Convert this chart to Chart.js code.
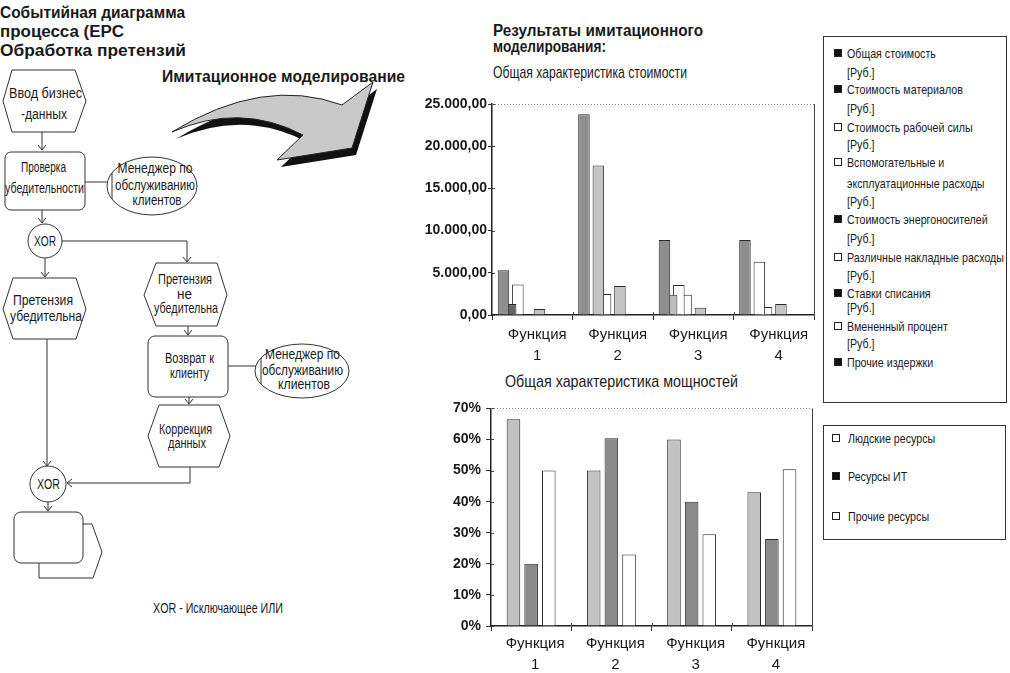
<!DOCTYPE html>
<html><head><meta charset="utf-8">
<script src="https://cdn.jsdelivr.net/npm/chart.js@4.4.1/dist/chart.umd.min.js"></script>
<style>
html,body{margin:0;padding:0;background:#fff;}
#stage{position:relative;width:1010px;height:673px;overflow:hidden;background:#fff;}
#deco{position:absolute;left:0;top:0;}
canvas{position:absolute;}
#costChart{left:420px;top:90px;}
#capChart{left:420px;top:395px;}
</style></head>
<body><div id="stage">
<svg id="deco" width="1010" height="673" xmlns="http://www.w3.org/2000/svg"></svg>
<canvas id="costChart" width="400" height="290"></canvas>
<canvas id="capChart" width="400" height="278"></canvas>
</div>
<script>
// ---------- DATA ----------
const categories = [['Функция','1'],['Функция','2'],['Функция','3'],['Функция','4']];
const costTicks = [0, 5000, 10000, 15000, 20000, 25000];
const capTicks = [0, 10, 20, 30, 40, 50, 60, 70];

const costSeries = ['Общая стоимость','Стоимость материалов','Стоимость рабочей силы',
  'Вспомогательные и эксплуатационные расходы','Стоимость энергоносителей',
  'Различные накладные расходы','Ставки списания','Вмененный процент','Прочие издержки'];
const costUnit = '[Руб.]';
const totalCost    = [5300, 23800, 8900, 8900];
const materialCost = [1300, 0, 2400, 0];
const laborCost    = [3600, 17700, 3550, 6300];
const auxCost      = [0, 2500, 2400, 950];
const energyCost   = [0, 0, 0, 0];
const overheadCost = [700, 3450, 850, 1300];
const writeOffCost = [0, 0, 0, 0];
const interestCost = [0, 0, 0, 0];
const otherCost    = [0, 0, 0, 0];

const capSeries = ['Людские ресурсы','Ресурсы ИТ','Прочие ресурсы'];
const humanRes = [66.5, 50, 60, 43];
const itRes    = [20, 60.4, 40, 28];
const otherRes = [50, 23, 29.5, 50.4];

// ---------- FONTS ----------
function hasFont(f){
  const c=document.createElement('canvas').getContext('2d');
  c.font='20px monospace'; const a=c.measureText('Функция abc').width;
  c.font='20px "'+f+'", monospace'; const b=c.measureText('Функция abc').width;
  return Math.abs(a-b)>0.5;
}
const NARROW = hasFont('Liberation Sans Narrow');
const FF = NARROW ? '"Liberation Sans Narrow","Liberation Sans",Arial,sans-serif' : '"Liberation Sans",Arial,sans-serif';
const FB = '"Liberation Sans",Arial,sans-serif';
const INK = '#1a1a1a';

// ---------- SVG DECORATION ----------
const NS='http://www.w3.org/2000/svg';
const svg=document.getElementById('deco');
function el(tag, attrs){const e=document.createElementNS(NS,tag);for(const k in attrs)e.setAttribute(k,attrs[k]);svg.appendChild(e);return e;}
function text(str,x,y,o){o=o||{};
  const t=el('text',{x:x,y:y,'font-family':o.family||FF,'font-size':o.size||14,'font-weight':o.weight||'normal',
    'text-anchor':o.anchor||'start','dominant-baseline':'central',fill:INK});
  if(o.w){t.setAttribute('textLength',o.w);t.setAttribute('lengthAdjust','spacingAndGlyphs');}
  t.textContent=str;return t;}
const LS={stroke:'#333','stroke-width':1,fill:'none'};
function line(pts){el('polyline',Object.assign({points:pts.map(p=>p.join(',')).join(' ')},LS));}
function chevDown(x,y){line([[x-4,y-5],[x,y],[x+4,y-5]]);}
function chevLeft(x,y){line([[x+5,y-4],[x,y],[x+5,y+4]]);}
function poly(pts,fill){el('polygon',{points:pts.map(p=>p.join(',')).join(' '),stroke:'#333','stroke-width':1,fill:fill||'#fff'});}

// titles
text('Событийная диаграмма',0,12,{family:FB,weight:'bold',size:16,w:185});
text('процесса (EPC',0,31,{family:FB,weight:'bold',size:16,w:124});
text('Обработка претензий',0,50,{family:FB,weight:'bold',size:16,w:186});
text('Имитационное моделирование',162,76,{family:FB,weight:'bold',size:16,w:243});
text('Результаты имитационного',493,30,{family:FB,weight:'bold',size:16,w:210});
text('моделирования:',493,46,{family:FB,weight:'bold',size:16,w:113});
text('Общая характеристика стоимости',493,72,{size:17,w:194});
text('Общая характеристика мощностей',505,381,{size:17,w:233});

// big arrow
const arrowD='M172,132 Q263,76 342,105 L373,82 L352,148 L277,160 L303,135 Q240,102 172,132 Z';
el('path',{d:arrowD,fill:'#111',transform:'translate(4,7)'});
el('path',{d:arrowD,fill:'#c9c9c9',stroke:'#222','stroke-width':1});

// flowchart
poly([[3,101],[12,70],[75,70],[86,101],[75,132],[12,132]]);
text('Ввод бизнес',45.5,93,{anchor:'middle',w:73});
text('-данных',44,114,{anchor:'middle',w:46});
line([[42,132],[42,149]]); chevDown(42,150);
el('rect',{x:5,y:152,width:80,height:58,rx:6,stroke:'#333','stroke-width':1,fill:'#fff'});
text('Проверка',43.5,167,{anchor:'middle',w:45});
text('убедительности',44.5,188,{anchor:'middle',w:79});
line([[85,182],[107,182]]);
el('ellipse',{cx:152,cy:186,rx:45,ry:29,stroke:'#333','stroke-width':1,fill:'#fff'});
line([[112,173],[112,199]]);
text('Менеджер по',155,168,{anchor:'middle',w:75});
text('обслуживанию',155,185,{anchor:'middle',w:80});
text('клиентов',157,200,{anchor:'middle',w:49});
line([[42,210],[42,222]]); chevDown(42,223);
el('circle',{cx:45,cy:241,r:17,stroke:'#333','stroke-width':1,fill:'#fff'});
text('XOR',45,241,{anchor:'middle',w:22});
line([[62,241],[187,241],[187,262]]); chevDown(187,262);
line([[45,258],[45,277]]); chevDown(45,277);
poly([[3,309],[13,278],[76,278],[86,309],[76,339],[13,339]]);
text('Претензия',43,300,{anchor:'middle',w:60});
text('убедительна',46,316,{anchor:'middle',w:72});
poly([[144,295],[156,263],[217,263],[227,295],[217,326],[156,326]]);
text('Претензия',185,279,{anchor:'middle',w:54});
text('не',184.5,294,{anchor:'middle',w:15});
text('убедительна',186,308,{anchor:'middle',w:64});
line([[188,326],[188,335]]); chevDown(188,335);
el('rect',{x:148,y:336,width:80,height:61,rx:7,stroke:'#333','stroke-width':1,fill:'#fff'});
text('Возврат к',189.5,358,{anchor:'middle',w:49});
text('клиенту',189.5,373,{anchor:'middle',w:39});
line([[228,366],[256,366]]);
el('ellipse',{cx:302,cy:371,rx:47,ry:27,stroke:'#333','stroke-width':1,fill:'#fff'});
line([[261,358],[261,384]]);
text('Менеджер по',302.5,354,{anchor:'middle',w:75});
text('обслуживанию',302.5,370,{anchor:'middle',w:81});
text('клиентов',304,384,{anchor:'middle',w:52});
line([[189,397],[189,404]]); chevDown(189,404);
poly([[148,436],[159,405],[219,405],[230,436],[219,467],[159,467]]);
text('Коррекция',185.5,429,{anchor:'middle',w:53});
text('данных',187,443,{anchor:'middle',w:38});
line([[190,467],[190,483],[67,483]]); chevLeft(67,483);
line([[47,339],[47,466]]); chevDown(47,466);
el('circle',{cx:48,cy:484,r:18,stroke:'#333','stroke-width':1,fill:'#fff'});
text('XOR',48.5,484,{anchor:'middle',w:23});
line([[48,502],[48,511]]); chevDown(48,511);
poly([[39,524],[92,524],[102,552],[93,578],[39,578]]);
el('rect',{x:14,y:512,width:69,height:51,rx:7,stroke:'#333','stroke-width':1,fill:'#fff'});
text('XOR - Исключающее ИЛИ',218,608,{anchor:'middle',w:130});

// legends
const mctx=document.createElement('canvas').getContext('2d');
const LSIZE=13.5;
mctx.font=LSIZE+'px '+FF;
const LK=157/mctx.measureText('Различные накладные расходы').width;
function ltext(str,x,y){text(str,x,y,{size:LSIZE,w:mctx.measureText(str).width*LK});}
const costLegendLines=[['Общая стоимость',costUnit],['Стоимость материалов',costUnit],['Стоимость рабочей силы',costUnit],
  ['Вспомогательные и','эксплуатационные расходы',costUnit],['Стоимость энергоносителей',costUnit],
  ['Различные накладные расходы',costUnit],['Ставки списания',costUnit],['Вмененный процент',costUnit],['Прочие издержки']];
const costLegendFilled=[true,true,false,false,true,false,true,false,true];
const costRowY=[53,72,89,108,127,144,162,183,201,219,238,257,275,293,307,326,343,362];
el('rect',{x:823.5,y:36.5,width:183,height:366,stroke:'#333','stroke-width':1,fill:'none'});
let r=0;
costLegendLines.forEach((lines,i)=>{
  el('rect',{x:834.5,y:costRowY[r]-3.5,width:7,height:7,stroke:'#222','stroke-width':1,fill:costLegendFilled[i]?'#111':'#fff'});
  lines.forEach(s=>{ltext(s,847,costRowY[r]);r++;});
});
el('rect',{x:823.5,y:425.5,width:182,height:114,stroke:'#333','stroke-width':1,fill:'none'});
const capLegendFilled=[false,true,false];
const capRowY=[438,476,516];
capSeries.forEach((s,i)=>{
  el('rect',{x:832.5,y:capRowY[i]-3.5,width:7,height:7,stroke:'#222','stroke-width':1,fill:capLegendFilled[i]?'#111':'#fff'});
  ltext(s,848,capRowY[i]);
});

// ---------- CHARTS ----------
const catFont = NARROW ? {family:FF,size:18,lineHeight:21/18} : {family:FB,size:15,lineHeight:21/15};
const tickFont = {family:FB,size:14,weight:'bold'};
function fmtDE(v){return Math.round(v).toString().replace(/\B(?=(\d{3})+(?!\d))/g,'.')+',00';}

const frame={id:'frame',afterDraw(chart){
  const {ctx,chartArea:a}=chart;
  ctx.save();
  ctx.strokeStyle='#444';ctx.lineWidth=1;
  ctx.beginPath();ctx.moveTo(Math.round(a.right)+0.5,a.top);ctx.lineTo(Math.round(a.right)+0.5,a.bottom);ctx.stroke();
  // inward parts of tick marks
  const y=chart.scales.y, x=chart.scales.x;
  y.ticks.forEach(t=>{const p=Math.round(y.getPixelForValue(t.value))+0.5;ctx.beginPath();ctx.moveTo(a.left,p);ctx.lineTo(a.left+3,p);ctx.stroke();});
  for(let i=1;i<categories.length;i++){const p=Math.round((x.getPixelForValue(i-1)+x.getPixelForValue(i))/2)+0.5;ctx.beginPath();ctx.moveTo(p,a.bottom);ctx.lineTo(p,a.bottom-3);ctx.stroke();}
  ctx.setLineDash([1,2]);ctx.strokeStyle='#888';
  ctx.beginPath();ctx.moveTo(a.left,Math.round(a.top)+0.5);ctx.lineTo(a.right,Math.round(a.top)+0.5);ctx.stroke();
  ctx.restore();
}};

function ds(label,data,color,cp,bp){return {label,data,backgroundColor:color,borderColor:'#2a2a2a',borderWidth:1,categoryPercentage:cp,barPercentage:bp};}

const costColors=['#8e8e8e',['#666666','#bdbdbd','#bdbdbd','#bdbdbd'],['#ffffff','#c4c4c4','#ffffff','#ffffff'],'#ffffff','#555555','#c4c4c4','#444444','#ffffff','#555555'];
const costData=[totalCost,materialCost,laborCost,auxCost,energyCost,overheadCost,writeOffCost,interestCost,otherCost];

new Chart(document.getElementById('costChart'),{
  type:'bar',
  data:{labels:categories,datasets:costData.map((d,i)=>ds(costSeries[i]+(i<8?' '+costUnit:''),d,costColors[i],0.805,1.6))},
  options:{
    responsive:false,animation:false,devicePixelRatio:1,
    layout:{padding:{left:0,top:14,right:6,bottom:5}},
    plugins:{legend:{display:false},tooltip:{enabled:false}},
    scales:{
      x:{grid:{display:true,drawOnChartArea:false,tickLength:5,color:'#333'},border:{color:'#222',width:1.5},
         ticks:{font:catFont,color:INK,padding:4.5,labelOffset:5,maxRotation:0,autoSkip:false},
         afterFit(s){s.height=60;}},
      y:{min:0,max:costTicks[costTicks.length-1],
         afterBuildTicks(s){s.ticks=costTicks.map(v=>({value:v}));},
         grid:{drawOnChartArea:false,tickLength:4,color:'#333'},border:{color:'#222',width:1.5},
         ticks:{font:tickFont,color:INK,padding:1,callback:v=>fmtDE(v)},
         afterFit(s){s.width=72;}}
    }
  },
  plugins:[frame]
});

const capColors=['#c2c2c2','#8a8a8a','#ffffff'];
const capData=[humanRes,itRes,otherRes];
new Chart(document.getElementById('capChart'),{
  type:'bar',
  data:{labels:categories,datasets:capData.map((d,i)=>ds(capSeries[i],d,capColors[i],0.66,0.77))},
  options:{
    responsive:false,animation:false,devicePixelRatio:1,
    layout:{padding:{left:0,top:13,right:8,bottom:0}},
    plugins:{legend:{display:false},tooltip:{enabled:false}},
    scales:{
      x:{grid:{display:true,drawOnChartArea:false,tickLength:5,color:'#333'},border:{color:'#222',width:1.5},
         ticks:{font:catFont,color:INK,padding:2.5,labelOffset:4,maxRotation:0,autoSkip:false},
         afterFit(s){s.height=47;}},
      y:{min:0,max:capTicks[capTicks.length-1],
         afterBuildTicks(s){s.ticks=capTicks.map(v=>({value:v}));},
         grid:{drawOnChartArea:false,tickLength:5,color:'#333'},border:{color:'#222',width:1.5},
         ticks:{font:tickFont,color:INK,padding:5,callback:v=>v+'%'},
         afterFit(s){s.width=71;}}
    }
  },
  plugins:[frame]
});
</script>
</body></html>
